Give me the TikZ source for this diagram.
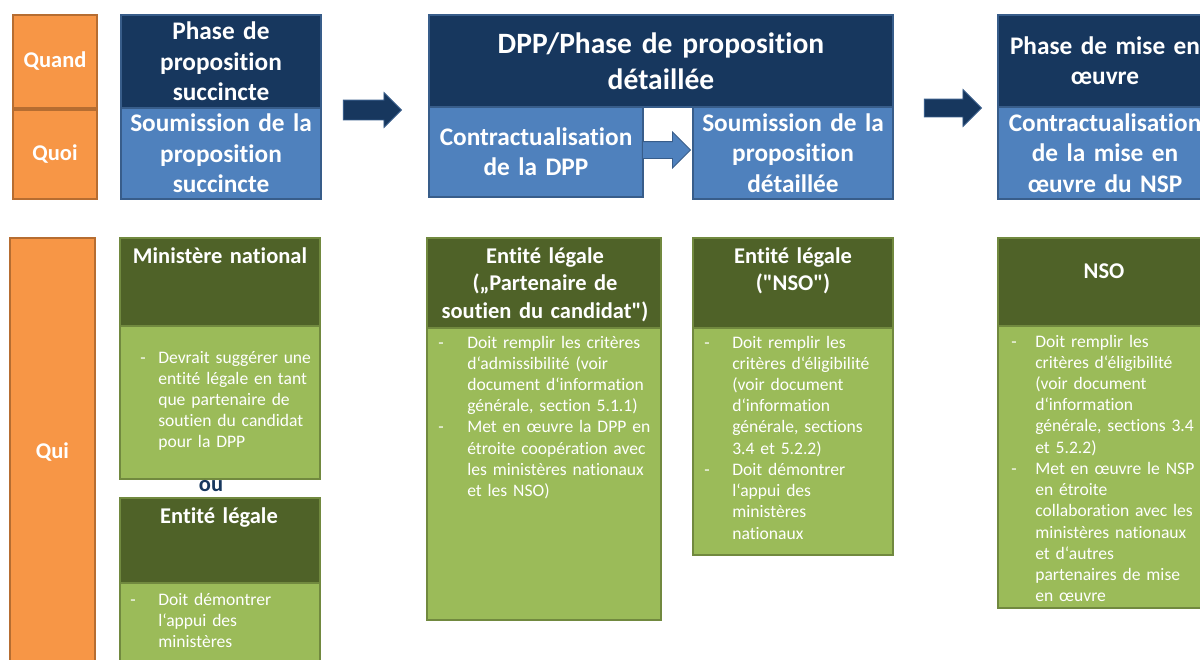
\documentclass[tikz,border=0pt]{standalone}
\usepackage{fontspec}
\setmainfont[Ligatures=NoCommon]{Carlito}
\usetikzlibrary{shapes.arrows}

\definecolor{orangefond}{HTML}{F79646}
\definecolor{orangebord}{HTML}{B66D31}
\definecolor{bleufonce}{HTML}{17375E}
\definecolor{bleuclair}{HTML}{4F81BD}
\definecolor{bleubord}{HTML}{385D8A}
\definecolor{vertfonce}{HTML}{4F6228}
\definecolor{vertclair}{HTML}{9BBB59}
\definecolor{vertbord}{HTML}{71893F}

\newcommand{\ftitre}{\fontsize{18}{21.6}\selectfont\bfseries}
\newcommand{\fentete}{\fontsize{16}{19.9}\selectfont\bfseries}
\newcommand{\fcorps}{\fontsize{12.5}{15.1}\selectfont}
\newcommand{\tiret}[1]{\noindent\hangindent=#1\hangafter=1\makebox[#1][l]{-}}

\tikzset{
  orange/.style={draw=orangebord, fill=orangefond, line width=1.2pt, text=white, font=\fentete, inner sep=0pt},
  phase/.style={draw=bleubord, fill=bleufonce, line width=1.2pt, text=white, align=center, font=\ftitre, inner sep=0pt},
  etape/.style={draw=bleubord, fill=bleuclair, line width=1.2pt, text=white, align=center, font=\ftitre, inner sep=0pt},
  entete/.style={draw=vertbord, fill=vertfonce, line width=1.2pt, inner sep=0pt},
  corps/.style={draw=vertbord, fill=vertclair, line width=1.2pt, inner sep=0pt},
  qui/.style={text=white, font=\fentete, align=center, text width=5.6cm, inner sep=0pt, anchor=base},
  liste/.style={text=white, font=\fcorps, align=left, text width=6cm, inner sep=0pt, anchor=base west},
  fleche/.style={single arrow, single arrow head extend=0.1875cm, inner xsep=0pt, inner ysep=0.2375cm, line width=0.6pt, anchor=tip}
}

\begin{document}
\begin{tikzpicture}[x=0.025cm, y=-0.025cm]
\useasboundingbox (0,0) rectangle (1200,659);
\clip (0,0) rectangle (1200,659);
% colonne de gauche
\node[orange, minimum width=2.1cm, minimum height=2.325cm] (quand) at (55,61.5) {Quand};
\node[orange, minimum width=2.1cm, minimum height=2.225cm] (quoi) at (55,154.5) {Quoi};
\node[orange, minimum width=2.125cm, minimum height=10.7cm] (qui) at (52.5,452) {Qui};
% phases
\node[phase, text width=4.8cm, minimum width=5cm, minimum height=2.325cm] (ph1) at (221,61.5) {Phase de\\ proposition\\ succincte};
\node[etape, text width=4.8cm, minimum width=5cm, minimum height=2.275cm] (so1) at (221,153.5) {Soumission de la\\ proposition\\ succincte};
\node[phase, font=\fontsize{21}{25.5}\selectfont\bfseries, text width=11.4cm, minimum width=11.6cm, minimum height=2.3cm] (ph2) at (661,61) {DPP/Phase de proposition\\ détaillée};
\node[etape, text width=5.2cm, minimum width=5.35cm, minimum height=2.25cm] (ct2) at (536,152) {Contractualisation\\ de la DPP};
\node[etape, text width=4.8cm, minimum width=5cm, minimum height=2.3cm] (so2) at (793,153) {Soumission de la\\ proposition\\ détaillée};
\node[phase, text width=5.2cm, minimum width=5.35cm, minimum height=2.3cm] (ph3) at (1105,61) {Phase de mise en\\ œuvre};
\node[etape, text width=5.2cm, minimum width=5.35cm, minimum height=2.3cm] (ct3) at (1105,153) {Contractualisation\\ de la mise en\\ œuvre du NSP};
% fleches
\node[fleche, draw=bleubord, fill=bleufonce, minimum height=1.45cm] (fl1) at (402,110) {};
\node[fleche, draw=bleubord, fill=bleuclair, minimum height=1.2cm, inner ysep=0.2cm, single arrow head extend=0.2375cm] (fl2) at (691,150) {};
\node[fleche, draw=bleubord, fill=bleufonce, minimum height=1.425cm, inner ysep=0.2125cm, single arrow head extend=0.2375cm] (fl3) at (982,108) {};
% ministere national / entite legale
\node[corps, minimum width=5cm, minimum height=3.825cm] (min-c) at (220,402.5) {};
\node[entete, minimum width=5cm, minimum height=2.2cm] (min-t) at (220,282) {};
\node[qui] (min-tx) at (220,263) {Ministère national};
\node[liste] (min-cx) at (140,363) {\tiret{0.45cm}Devrait suggérer une\newline entité légale en tant\newline que partenaire de\newline soutien du candidat\newline pour la DPP\par};
\node[text=bleufonce, font=\fentete, inner sep=0pt] (ou) at (211,486) {ou};
\node[corps, minimum width=5cm, minimum height=2.4cm] (ent-c) at (220,631.5) {};
\node[entete, minimum width=5cm, minimum height=2.125cm] (ent-t) at (220,540.5) {};
\node[qui] (ent-tx) at (219,523) {Entité légale};
\node[liste] (ent-cx) at (130,605) {\tiret{0.7cm}Doit démontrer\newline l‘appui des\newline ministères\par};
% partenaire de soutien
\node[corps, minimum width=5.85cm, minimum height=7.3cm] (par-c) at (544,474) {};
\node[entete, minimum width=5.85cm, minimum height=2.25cm] (par-t) at (544,283) {};
\node[qui] (par-tx) at (545,263) {Entité légale\\ („Partenaire de\\ soutien du candidat\textquotedbl)};
\node[liste] (par-cx) at (438,348) {\tiret{0.725cm}Doit remplir les critères\newline d‘admissibilité (voir\newline document d‘information\newline générale, section 5.1.1)\par
  \tiret{0.725cm}Met en œuvre la DPP en\newline étroite coopération avec\newline les ministères nationaux\newline et les NSO)\par};
% NSO
\node[corps, minimum width=5cm, minimum height=5.675cm] (nso-c) at (793,441.5) {};
\node[entete, minimum width=5cm, minimum height=2.25cm] (nso-t) at (793,283) {};
\node[qui] (nso-tx) at (793,263) {Entité légale\\ (\textquotedbl NSO\textquotedbl)};
\node[liste] (nso-cx) at (704,348) {\tiret{0.7cm}Doit remplir les\newline critères d‘éligibilité\newline (voir document\newline d‘information\newline générale, sections\newline 3.4 et 5.2.2)\par
  \tiret{0.7cm}Doit démontrer\newline l‘appui des\newline ministères\newline nationaux\par};
% mise en oeuvre
\node[corps, minimum width=5.35cm, minimum height=7.05cm] (mo-c) at (1105,467) {};
\node[entete, minimum width=5.35cm, minimum height=2.2cm] (mo-t) at (1105,282) {};
\node[qui] (mo-tx) at (1104,278) {NSO};
\node[liste] (mo-cx) at (1011,347) {\tiret{0.6cm}Doit remplir les\newline critères d‘éligibilité\newline (voir document\newline d‘information\newline générale, sections 3.4\newline et 5.2.2)\par
  \tiret{0.6cm}Met en œuvre le NSP\newline en étroite\newline collaboration avec les\newline ministères nationaux\newline et d‘autres\newline partenaires de mise\newline en œuvre\par};
\end{tikzpicture}
\end{document}
